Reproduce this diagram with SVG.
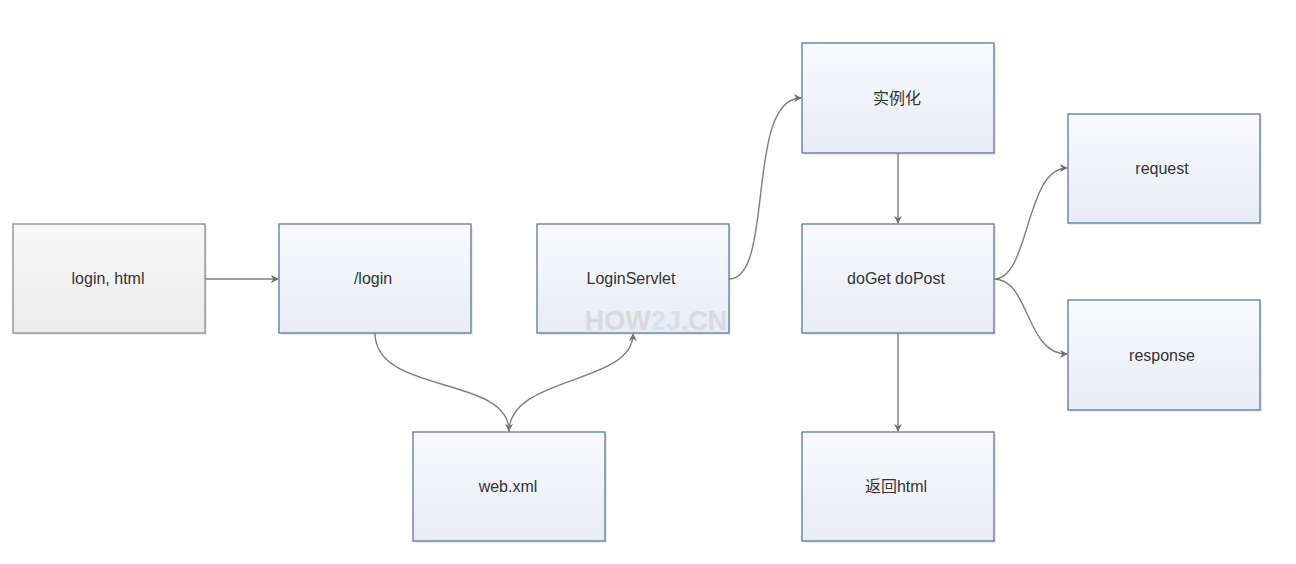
<svg xmlns="http://www.w3.org/2000/svg" width="1296" height="564" viewBox="0 0 1296 564">
<style>
.box{fill:url(#gb);stroke:#5a77a3;stroke-width:1.3}
.gbox{fill:url(#gg);stroke:#8a8a8a;stroke-width:1.3}
.lbl{font-family:"Liberation Sans","Noto Sans CJK SC",sans-serif;font-size:16px;fill:#333;text-anchor:middle;dominant-baseline:central}
.c{fill:none;stroke:#7f7f7f;stroke-width:1.4;marker-end:url(#ah)}
.sh{fill:#000;opacity:0.08}
</style>
<defs>
<linearGradient id="gb" x1="0" y1="0" x2="0" y2="1"><stop offset="0" stop-color="#f9fafd"/><stop offset="1" stop-color="#e7ecf5"/></linearGradient>
<linearGradient id="gg" x1="0" y1="0" x2="0" y2="1"><stop offset="0" stop-color="#f8f8f8"/><stop offset="1" stop-color="#ececec"/></linearGradient>
<marker id="ah" viewBox="0 0 10 10" refX="9" refY="5" markerWidth="8" markerHeight="8" markerUnits="userSpaceOnUse" orient="auto"><path d="M0,0 L10,5 L0,10 L3,5 Z" fill="#707070"/></marker>
</defs>
<rect width="1296" height="564" fill="#fff"/>
<g id="n-loginhtml"><rect class="sh" x="15" y="226" width="192" height="109"/><rect class="gbox" x="13" y="224" width="192" height="109"/><text class="lbl" x="108" y="278">login, html</text></g>
<g id="n-login"><rect class="sh" x="281" y="226" width="192" height="109"/><rect class="box" x="279" y="224" width="192" height="109"/><text class="lbl" x="373" y="278">/login</text></g>
<g id="n-servlet"><rect class="sh" x="539" y="226" width="192" height="109"/><rect class="box" x="537" y="224" width="192" height="109"/><text class="lbl" x="631" y="278">LoginServlet</text><text x="656" y="330" font-family="Liberation Sans,sans-serif" font-size="27" font-weight="bold" text-anchor="middle" fill="#d6d6d6" opacity="0.8">HOW<tspan fill="#d3deee">2J</tspan>.CN</text></g>
<g id="n-webxml"><rect class="sh" x="415" y="434" width="192" height="109"/><rect class="box" x="413" y="432" width="192" height="109"/><text class="lbl" x="508" y="486">web.xml</text></g>
<g id="n-inst"><rect class="sh" x="804" y="45" width="192" height="110"/><rect class="box" x="802" y="43" width="192" height="110"/><text class="lbl" x="897" y="98">实例化</text></g>
<g id="n-doget"><rect class="sh" x="804" y="226" width="192" height="109"/><rect class="box" x="802" y="224" width="192" height="109"/><text class="lbl" x="896" y="278">doGet doPost</text></g>
<g id="n-request"><rect class="sh" x="1070" y="116" width="192" height="109"/><rect class="box" x="1068" y="114" width="192" height="109"/><text class="lbl" x="1162" y="168">request</text></g>
<g id="n-response"><rect class="sh" x="1070" y="302" width="192" height="110"/><rect class="box" x="1068" y="300" width="192" height="110"/><text class="lbl" x="1162" y="355">response</text></g>
<g id="n-return"><rect class="sh" x="804" y="434" width="192" height="109"/><rect class="box" x="802" y="432" width="192" height="109"/><text class="lbl" x="896" y="486">返回html</text></g>
<g id="connectors">
<path class="c" d="M205,279 L278,279"/>
<path class="c" d="M375,333 C375,395 509,375 509,431"/>
<path class="c" d="M509,432 C509,375 633,385 633,334"/>
<path class="c" d="M729,279 C775,279 745,98 801,98"/>
<path class="c" d="M898,153 L898,223"/>
<path class="c" d="M994,279 C1030,279 1025,168 1067,168"/>
<path class="c" d="M994,279 C1030,279 1025,354 1067,354"/>
<path class="c" d="M898,333 L898,431"/>
</g>
</svg>
